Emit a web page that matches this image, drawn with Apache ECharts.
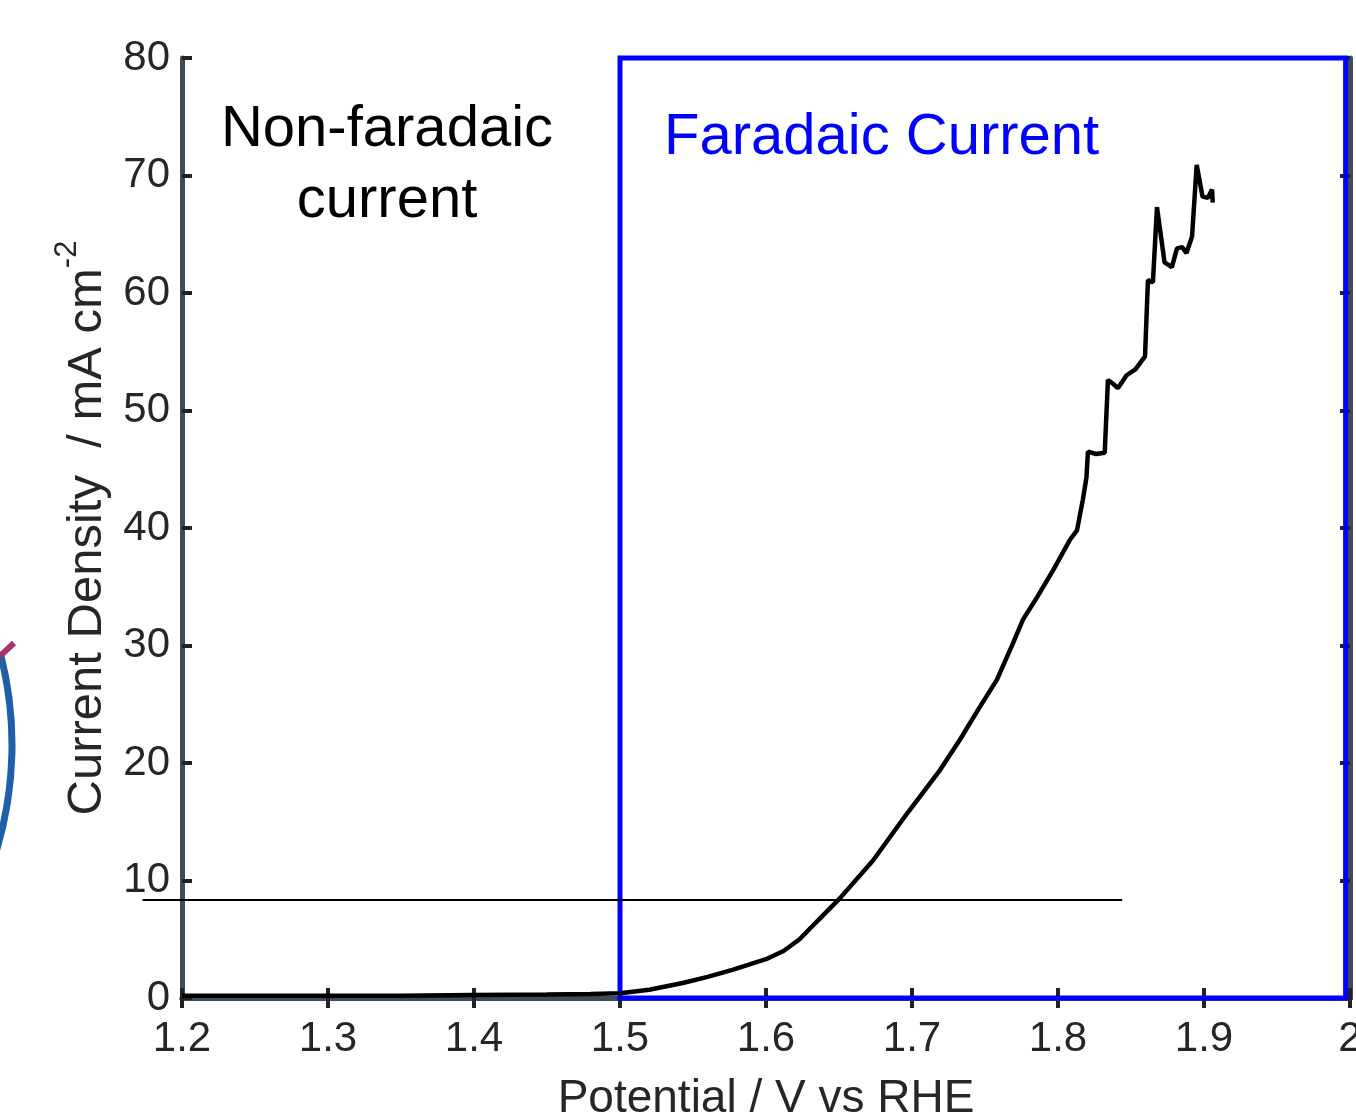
<!DOCTYPE html>
<html>
<head>
<meta charset="utf-8">
<script src="https://cdn.jsdelivr.net/npm/echarts@6/dist/echarts.min.js"></script>
<style>
  html, body { margin:0; padding:0; background:#fff; }
  #myChart { width:1356px; height:1114px; }
</style>
</head>
<body>
<div id="myChart"></div>
<script>
// potential (V vs RHE) and current density (mA cm-2)
var potential = [1.2, 1.25, 1.3, 1.35, 1.4, 1.45, 1.48, 1.5, 1.52, 1.543, 1.56, 1.577, 1.6, 1.612, 1.623, 1.634,
    1.6507, 1.6733, 1.6966, 1.7192, 1.7329, 1.7466, 1.7582, 1.7692, 1.776, 1.7856, 1.7966, 1.8082, 1.813,
    1.817, 1.8195, 1.8205, 1.826, 1.832, 1.8342, 1.8375, 1.841, 1.847, 1.853, 1.8596, 1.8616, 1.865, 1.8678,
    1.873, 1.878, 1.8815, 1.885, 1.888, 1.8918, 1.895, 1.899, 1.9027, 1.9055, 1.906];
var density = [0.2, 0.2, 0.2, 0.2, 0.25, 0.3, 0.35, 0.4, 0.7, 1.28, 1.8, 2.4, 3.3, 4.0, 5.0, 6.4,
    8.5, 11.7, 15.7, 19.4, 22.0, 24.8, 27.1, 30.2, 32.2, 34.1, 36.4, 39.0, 39.8,
    42.4, 44.3, 46.5, 46.3, 46.4, 52.6, 52.3, 51.9, 53.0, 53.5, 54.6, 61.1, 60.9, 67.3,
    62.6, 62.2, 63.8, 63.9, 63.4, 64.8, 70.9, 68.2, 68.1, 68.8, 67.7];

// reference line at ~8.3 mA cm-2 (starts left of the y axis)
var refLineStart = [1.173];
var refLineEnd = [1.844];
var refLineLevel = [8.34];

// faradaic region box
var faradaicX = [1.5, 1.997];
var faradaicY = [0, 80];

var xTicks = {min: 1.2, max: 2, interval: 0.1};
var yTicks = {min: 0, max: 80, interval: 10};

var FONT = 'Liberation Sans, Arial, Helvetica, sans-serif';
var FRAME = '#404b5b';

var chart = echarts.init(document.getElementById('myChart'));

var mainCurve = potential.map(function (v, i) { return [v, density[i]]; });
var refLine = refLineStart.map(function (v, i) { return [v, refLineEnd[i], refLineLevel[i]]; });

chart.setOption({
    backgroundColor: '#fff',
    animation: false,
    grid: {left: 182, right: 6, top: 58, bottom: 116, containLabel: false, outerBoundsMode: 'none'},
    graphic: [
        {
            type: 'arc',
            shape: {cx: -354, cy: 745, r: 366, startAngle: -0.25, endAngle: 0.3},
            style: {stroke: '#1f5fa8', lineWidth: 7, fill: null}
        },
        {
            type: 'line',
            shape: {x1: 0, y1: 656, x2: 14, y2: 643},
            style: {stroke: '#a8336e', lineWidth: 6}
        },
        {
            type: 'text',
            x: 387, y: 130,
            style: {
                text: 'Non-faradaic', fill: '#000', font: '58px ' + FONT,
                textAlign: 'center', textVerticalAlign: 'middle'
            }
        },
        {
            type: 'text',
            x: 387, y: 201,
            style: {
                text: 'current', fill: '#000', font: '58px ' + FONT,
                textAlign: 'center', textVerticalAlign: 'middle'
            }
        },
        {
            type: 'text',
            x: 664, y: 138,
            style: {
                text: 'Faradaic Current', fill: '#0000ff', font: '58px ' + FONT,
                textAlign: 'left', textVerticalAlign: 'middle'
            }
        }
    ],
    xAxis: [
        {
            type: 'value', position: 'bottom',
            min: xTicks.min, max: xTicks.max, interval: xTicks.interval,
            name: 'Potential / V vs RHE', nameLocation: 'middle', nameGap: 78,
            nameTextStyle: {fontSize: 46, color: '#262626', fontFamily: FONT},
            splitLine: {show: false},
            axisLine: {show: true, lineStyle: {color: FRAME, width: 5}},
            axisTick: {show: true, inside: true, length: 10, lineStyle: {color: '#222', width: 4}},
            axisLabel: {
                fontSize: 42, color: '#262626', fontFamily: FONT, margin: 20,
                formatter: function (v) { return String(+v.toFixed(1)); }
            }
        },
        {
            type: 'value', position: 'top',
            min: xTicks.min, max: xTicks.max, interval: xTicks.interval,
            splitLine: {show: false},
            axisLine: {show: true, lineStyle: {color: FRAME, width: 5}},
            axisTick: {show: true, inside: true, length: 10, lineStyle: {color: '#222', width: 4}},
            axisLabel: {show: false}
        }
    ],
    yAxis: [
        {
            type: 'value', position: 'left',
            min: yTicks.min, max: yTicks.max, interval: yTicks.interval,
            name: '{a|Current Density  / mA cm}{s|-2}', nameLocation: 'middle', nameGap: 69,
            nameRotate: 90,
            nameTextStyle: {
                color: '#262626', fontFamily: FONT,
                rich: {
                    a: {fontSize: 49, color: '#262626', fontFamily: FONT, lineHeight: 60, verticalAlign: 'bottom'},
                    s: {fontSize: 31, color: '#262626', fontFamily: FONT, lineHeight: 60, verticalAlign: 'top'}
                }
            },
            splitLine: {show: false},
            axisLine: {show: true, lineStyle: {color: FRAME, width: 5}},
            axisTick: {show: true, inside: true, length: 10, lineStyle: {color: '#222', width: 4}},
            axisLabel: {fontSize: 42, color: '#262626', fontFamily: FONT, margin: 12}
        },
        {
            type: 'value', position: 'right',
            min: yTicks.min, max: yTicks.max, interval: yTicks.interval,
            splitLine: {show: false},
            axisLine: {show: true, lineStyle: {color: FRAME, width: 5}},
            axisTick: {show: true, inside: true, length: 10, lineStyle: {color: '#222', width: 4}},
            axisLabel: {show: false}
        }
    ],
    series: [
        {
            name: 'LSV',
            type: 'line',
            data: mainCurve,
            showSymbol: false,
            smooth: false,
            lineStyle: {color: '#000', width: 4.5},
            z: 5,
            markArea: {
                silent: true,
                itemStyle: {color: 'rgba(0,0,0,0)', borderColor: '#0000ff', borderWidth: 5},
                data: [[
                    {coord: [faradaicX[0], faradaicY[1]]},
                    {coord: [faradaicX[1], faradaicY[0]]}
                ]]
            }
        },
        {
            name: 'ref',
            type: 'custom',
            data: refLine,
            clip: false,
            z: 4,
            renderItem: function (params, api) {
                var p0 = api.coord([api.value(0), api.value(2)]);
                var p1 = api.coord([api.value(1), api.value(2)]);
                return {
                    type: 'line',
                    shape: {x1: p0[0], y1: p0[1], x2: p1[0], y2: p1[1]},
                    style: {stroke: '#000', lineWidth: 2}
                };
            }
        }
    ]
});
</script>
</body>
</html>
